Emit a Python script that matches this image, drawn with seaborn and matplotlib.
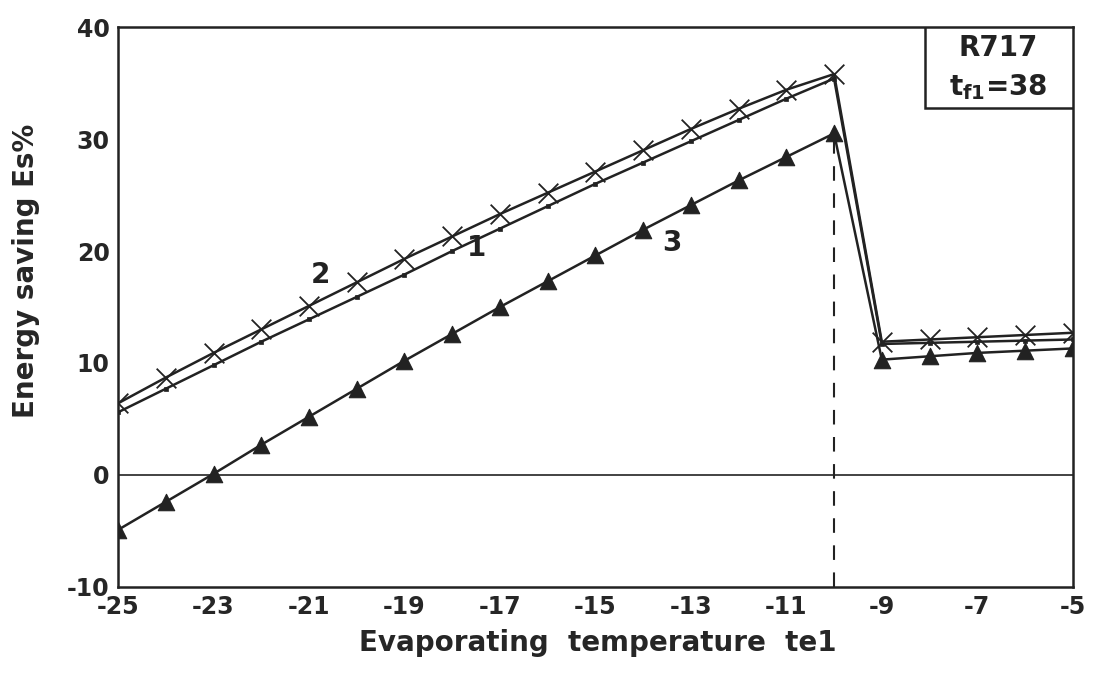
import numpy as np
import pandas as pd
import matplotlib
matplotlib.use("Agg")
import matplotlib.pyplot as plt
from matplotlib.patches import Rectangle
import seaborn as sns

temps = [-25, -24, -23, -22, -21, -20, -19, -18, -17, -16, -15, -14, -13, -12, -11, -10,
         -9, -8, -7, -6, -5]
series1 = [5.6, 7.7, 9.8, 11.9, 13.9, 15.9, 17.9, 20.0, 22.0, 24.0, 26.0, 27.9, 29.8, 31.7, 33.6, 35.4,
           11.7, 11.8, 11.9, 12.0, 12.1]
series2 = [6.4, 8.7, 10.9, 13.0, 15.1, 17.2, 19.3, 21.3, 23.3, 25.2, 27.1, 29.0, 30.9, 32.7, 34.4, 35.8,
           11.9, 12.1, 12.3, 12.5, 12.7]
series3 = [-4.9, -2.4, 0.1, 2.7, 5.2, 7.7, 10.2, 12.6, 15.0, 17.3, 19.6, 21.9, 24.1, 26.3, 28.4, 30.5,
           10.3, 10.6, 10.9, 11.1, 11.3]
names = ["1", "2", "3"]
xticks = [-25, -23, -21, -19, -17, -15, -13, -11, -9, -7, -5]
yticks = [-10, 0, 10, 20, 30, 40]

df = pd.DataFrame({
    "t": temps * 3,
    "Es": series1 + series2 + series3,
    "curve": [names[0]] * len(temps) + [names[1]] * len(temps) + [names[2]] * len(temps),
})

sns.set_theme(style="white")
plt.rcParams['font.family'] = ['DejaVu Sans']
plt.rcParams['font.weight'] = 'bold'
plt.rcParams['axes.unicode_minus'] = False
plt.rcParams['mathtext.fontset'] = 'dejavusans'

fig = plt.figure(figsize=(10.98, 6.76), dpi=100)
ax = fig.add_axes([0.1075, 0.1317, 0.8695, 0.8283])

ink = "#222222"
sns.lineplot(data=df, x="t", y="Es", hue="curve",
             palette={"1": ink, "2": ink, "3": ink},
             linewidth=1.8, ax=ax, legend=False)

sns.scatterplot(x=temps, y=series1, marker="s", s=12, color=ink, edgecolor=ink,
                linewidth=0.5, ax=ax, legend=False, zorder=3)
sns.scatterplot(x=temps, y=series2, marker="x", s=200, color=ink,
                linewidth=1.3, ax=ax, legend=False, zorder=3)
sns.scatterplot(x=temps, y=series3, marker="^", s=140, color=ink, edgecolor=ink,
                linewidth=0.8, ax=ax, legend=False, zorder=3)

ax.axhline(0, color=ink, lw=1.2, zorder=1)
ax.plot([-10, -10], [-10, 30.5], color=ink, lw=1.5, ls=(0, (7, 6)), zorder=1)

ax.set_xlim(-25, -5)
ax.set_ylim(-10, 40)
ax.set_xticks(xticks)
ax.set_yticks(yticks)
ax.tick_params(axis="both", labelsize=17, length=0, pad=6)
for lab in ax.get_xticklabels() + ax.get_yticklabels():
    lab.set_fontweight("bold")
ax.set_xlabel("Evaporating  temperature  te1", fontsize=20, fontweight="bold")
ax.set_ylabel("Energy saving Es%", fontsize=20, fontweight="bold")
ax.xaxis.set_label_coords(0.502, -0.075)
ax.yaxis.set_label_coords(-0.082, 0.565)

for sp in ax.spines.values():
    sp.set_color(ink)
    sp.set_linewidth(1.8)

ax.text(-17.5, 20.3, "1", fontsize=20, fontweight="bold", ha="center", va="center", color=ink)
ax.text(-20.75, 17.9, "2", fontsize=20, fontweight="bold", ha="center", va="center", color=ink)
ax.text(-13.4, 20.7, "3", fontsize=20, fontweight="bold", ha="center", va="center", color=ink)

ax.add_patch(Rectangle((0.845, 0.855), 0.155, 0.145, transform=ax.transAxes,
                       facecolor="white", edgecolor=ink, linewidth=1.8, zorder=4))
ax.text(0.922, 0.962, "R717", transform=ax.transAxes, ha="center", va="center",
        fontsize=20, fontweight="bold", color=ink, zorder=5)
ax.text(0.922, 0.893, r"$\mathbf{t_{f1}}$=38", transform=ax.transAxes, ha="center", va="center",
        fontsize=20, fontweight="bold", color=ink, zorder=5)

fig.savefig("out.png", dpi=100)
